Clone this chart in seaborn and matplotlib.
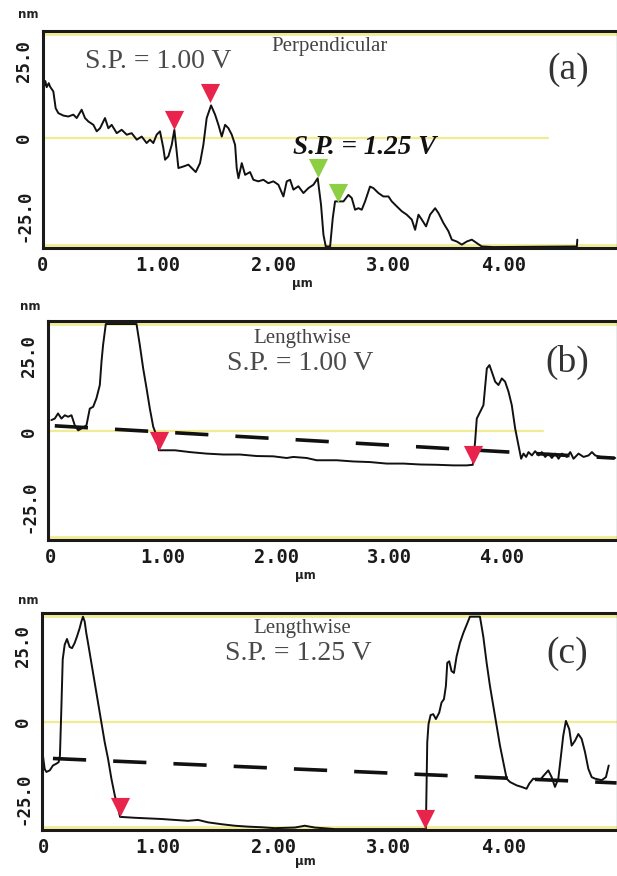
import numpy as np
import pandas as pd
import seaborn as sns
import matplotlib.pyplot as plt

# profile (a) - perpendicular
a_x = [0.0, 0.012, 0.02, 0.032, 0.05, 0.061, 0.09, 0.11, 0.133, 0.177, 0.22, 0.264, 0.293, 0.336, 0.365,
       0.394, 0.438, 0.467, 0.496, 0.539, 0.568, 0.597, 0.641, 0.684, 0.728, 0.771, 0.815, 0.858, 0.901, 0.930,
       0.959, 0.988, 1.017, 1.046, 1.061, 1.090, 1.119, 1.142, 1.162, 1.177, 1.220, 1.264, 1.293, 1.328, 1.365,
       1.394, 1.423, 1.461, 1.496, 1.525, 1.554, 1.583, 1.612, 1.641, 1.670, 1.684, 1.699, 1.728, 1.757, 1.800,
       1.829, 1.872, 1.916, 1.959, 2.003, 2.046, 2.090, 2.119, 2.148, 2.177, 2.220, 2.264, 2.307, 2.351, 2.388,
       2.417, 2.438, 2.458, 2.496, 2.519, 2.539, 2.568, 2.612, 2.655, 2.684, 2.713, 2.742, 2.771, 2.800, 2.843,
       2.872, 2.916, 2.959, 3.003, 3.032, 3.075, 3.119, 3.162, 3.206, 3.235, 3.264, 3.293, 3.330, 3.365, 3.409,
       3.438, 3.481, 3.525, 3.554, 3.597, 3.641, 3.684, 3.728, 3.771, 3.814, 3.916, 4.641, 4.645]
a_y = [20.0, 17.0, 18.5, 16.5, 17.8, 16.7, 15.1, 9.7, 8.1, 7.3, 7.0, 7.6, 6.5, 9.2, 6.5,
       5.4, 4.3, 2.2, 3.2, 6.5, 3.2, 4.3, 1.6, 2.7, 1.1, 1.6, -0.5, 0.5, -1.6, -0.5,
       -1.6, 1.1, 2.2, -3.2, -7.0, -5.9, -2.2, 2.7, -4.3, -9.7, -9.2, -8.6, -9.7, -11.0, -8.1,
       -2.2, 6.5, 10.6, 7.6, 4.3, 0.5, 4.3, 3.2, 1.1, -2.2, -9.7, -13.0, -8.1, -11.9, -11.0,
       -13.5, -14.0, -13.5, -14.6, -14.0, -15.1, -18.9, -14.0, -13.5, -16.7, -15.6, -17.8, -16.2, -15.1, -13.0,
       -21.6, -31.3, -35.1, -35.1, -25.9, -20.5, -20.5, -20.5, -18.4, -19.4, -23.2, -22.7, -23.2, -20.5, -15.7,
       -16.2, -17.8, -18.9, -18.9, -20.5, -22.1, -23.7, -24.8, -26.4, -29.7, -24.8, -26.4, -28.6, -24.8, -22.7,
       -24.3, -27.5, -30.2, -32.9, -33.5, -34.5, -33.5, -32.9, -34.0, -35.1, -35.3, -35.1, -32.9]
a_red_x = [1.136, 1.449]
a_red_y = [5.8, 14.6]
a_green_x = [2.388, 2.568]
a_green_y = [-9.7, -17.8]

# profile (b) - lengthwise, 1.00 V
b_x = [0.010, 0.040, 0.069, 0.099, 0.129, 0.158, 0.188, 0.217, 0.247, 0.276, 0.321, 0.350, 0.380, 0.409, 0.439,
       0.454, 0.468, 0.492, 0.764, 0.793, 0.823, 0.853, 0.882, 0.912, 0.935, 0.962, 1.104, 1.237, 1.384, 1.532,
       1.680, 1.828, 1.975, 2.094, 2.153, 2.271, 2.360, 2.478, 2.537, 2.685, 2.832, 2.980, 3.128, 3.276, 3.423,
       3.571, 3.689, 3.743, 3.763, 3.778, 3.822, 3.837, 3.867, 3.890, 3.911, 3.941, 3.970, 4.000, 4.029, 4.059,
       4.088, 4.118, 4.147, 4.171, 4.192, 4.215, 4.236, 4.266, 4.295, 4.325, 4.354, 4.384, 4.413, 4.443, 4.473,
       4.502, 4.532, 4.576, 4.606, 4.635, 4.679, 4.724, 4.768, 4.798, 4.827, 4.871, 4.931, 5.004]
b_y = [3.7, 4.2, 5.9, 4.2, 5.3, 4.8, 5.3, 2.0, 0.3, 0.9, 2.0, 7.5, 8.1, 10.9, 15.3,
       23.1, 28.6, 35.5, 35.5, 28.6, 20.8, 14.2, 7.5, 1.5, -0.8, -6.3, -6.3, -6.9, -7.4, -7.7,
       -7.7, -8.2, -8.3, -8.85, -8.5, -8.85, -9.6, -9.6, -9.6, -10.0, -10.2, -10.7, -10.7, -11.0, -11.1,
       -11.3, -11.3, -11.1, -3.5, 4.2, 7.5, 8.65, 20.8, 21.9, 19.7, 16.4, 15.3, 17.5, 16.4, 13.1,
       8.65, 0.9, -4.6, -9.1, -7.4, -8.5, -6.9, -8.0, -6.6, -8.0, -6.9, -8.5, -7.4, -8.85, -7.4,
       -9.1, -7.4, -8.5, -6.9, -9.1, -7.4, -8.5, -8.0, -6.9, -8.0, -8.5, -8.85, -8.85]
b_red_x = [0.962, 3.743]
b_red_y = [-3.3, -8.0]
b_base_x = [0.04, 5.0]
b_base_y = [1.8, -8.9]

# profile (c) - lengthwise, 1.25 V
c_x = [0.0, 0.013, 0.028, 0.057, 0.085, 0.115, 0.135, 0.146, 0.158, 0.170, 0.187, 0.207, 0.230, 0.251, 0.274,
       0.294, 0.317, 0.332, 0.346, 0.361, 0.375, 0.390, 0.419, 0.448, 0.477, 0.506, 0.535, 0.564, 0.593, 0.622,
       0.651, 0.668, 0.796, 0.912, 1.028, 1.143, 1.259, 1.346, 1.433, 1.549, 1.665, 1.781, 1.897, 2.013, 2.187,
       2.274, 2.361, 2.535, 2.839, 3.274, 3.326, 3.338, 3.349, 3.367, 3.390, 3.413, 3.442, 3.462, 3.483, 3.500,
       3.512, 3.529, 3.549, 3.570, 3.593, 3.622, 3.651, 3.680, 3.709, 3.796, 3.825, 3.854, 3.883, 3.912, 3.941,
       3.970, 3.999, 4.028, 4.057, 4.115, 4.158, 4.201, 4.225, 4.259, 4.317, 4.352, 4.390, 4.419, 4.448, 4.477,
       4.497, 4.520, 4.543, 4.572, 4.593, 4.622, 4.651, 4.680, 4.709, 4.738, 4.767, 4.796, 4.854, 4.891, 4.915]
c_y = [-11.5, -15.3, -16.3, -15.8, -14.2, -13.6, -13.1, -10.9, 4.2, 20.5, 25.3, 27.2, 24.6, 24.2, 25.9,
       28.0, 30.7, 32.9, 34.5, 32.9, 29.1, 25.9, 19.4, 12.9, 6.4, -0.1, -6.6, -12.0, -18.5, -23.9,
       -28.2, -31.0, -31.3, -31.5, -31.7, -32.0, -32.3, -32.0, -32.8, -33.4, -33.9, -34.2, -34.4, -34.7, -34.5,
       -33.9, -34.5, -35.0, -35.0, -35.0, -35.0, -6.6, -0.65, 2.3, 2.6, 1.0, 3.1, 6.4, 7.5, 11.8,
       19.4, 19.9, 16.7, 16.1, 21.5, 25.9, 29.1, 31.8, 34.5, 34.5, 28.0, 19.4, 11.8, 5.3, -1.2,
       -7.7, -13.1, -18.5, -19.6, -20.7, -21.2, -21.8, -20.1, -18.5, -19.0, -17.4, -15.8, -18.0, -21.2, -18.5,
       -12.0, -4.4, 0.4, -2.3, -7.7, -6.1, -3.9, -5.5, -9.8, -15.3, -18.0, -18.5, -19.0, -18.0, -14.2]
c_red_x = [0.671, 3.32]
c_red_y = [-27.7, -31.7]
c_base_x = [0.085, 4.984]
c_base_y = [-11.9, -19.9]

x_ticks = [0, 1, 2, 3, 4]
x_ticklabels = ['0', '1.00', '2.00', '3.00', '4.00']
y_ticks = [25, 0, -25]
y_ticklabels = ['25.0', '0', '-25.0']

W, H = 617, 876
RED = '#e8244c'
GREEN = '#8ccf45'
YELLOW = '#f1ec94'

sns.set_style('white')
fig = plt.figure(figsize=(W / 100, H / 100), dpi=100)


def px(x, y):
    return x / W, 1 - y / H


def make_axes(left, top, bottom, ylim, zero_end=1.0):
    ax = fig.add_axes([left / W, 1 - bottom / H, (W - left) / W, (bottom - top) / H])
    ax.axhline(0, xmax=zero_end, color=YELLOW, lw=1.6, zorder=0)
    ax.axhline(ylim[1] - 0.9, color=YELLOW, lw=2, zorder=0)
    ax.axhline(ylim[0] + 0.9, color=YELLOW, lw=2, zorder=0)
    for side in ['left', 'bottom', 'top']:
        ax.spines[side].set_color('#1a1a1a')
        ax.spines[side].set_linewidth(2.2)
    ax.spines['right'].set_color('#999999')
    ax.spines['right'].set_linewidth(1)
    return ax


def finish_axes(ax, xlim, ylim):
    ax.set_xlim(*xlim)
    ax.set_ylim(*ylim)
    ax.set_xticks(x_ticks)
    ax.set_xticklabels(x_ticklabels, family='DejaVu Sans Mono', fontweight='bold', fontsize=13.5, color='#1a1a1a')
    ax.set_yticks(y_ticks)
    ax.set_yticklabels(y_ticklabels, family='DejaVu Sans Mono', fontweight='bold', fontsize=12.5,
                       rotation=90, va='center', color='#1a1a1a')
    ax.tick_params(axis='x', direction='in', length=3, width=1, pad=6)
    ax.tick_params(axis='y', direction='out', length=4, width=1, pad=3)
    ax.set_xlabel('')
    ax.set_ylabel('')


def profile(ax, xs, ys):
    df = pd.DataFrame({'x': xs, 'y': ys})
    sns.lineplot(data=df, x='x', y='y', ax=ax, color='#111111', lw=1.4, estimator=None, sort=False)


def baseline(ax, xs, ys):
    sns.lineplot(x=xs, y=ys, ax=ax, color='#111111', lw=2.6, linestyle=(0, (9.2, 7.5)),
                 estimator=None, sort=False)


def cursors(ax, xs, ys, color):
    sns.scatterplot(x=xs, y=ys, ax=ax, marker='v', s=190, color=color, linewidth=0, zorder=5)


serif = 'Liberation Serif'
label_font = dict(family='DejaVu Sans', fontweight='bold', fontsize=8.5, color='#222')
title_font = dict(family=serif, fontsize=15, color='#444', ha='center', va='center')
sp_font = dict(family=serif, fontsize=20, color='#4a4a4a', ha='center', va='center')
tag_font = dict(family=serif, fontsize=27, color='#333', ha='center', va='center')

# (a)
ylim_a = (-35.6, 34.7)
ax_a = make_axes(43, 31, 248, ylim_a, zero_end=0.88)
profile(ax_a, a_x, a_y)
cursors(ax_a, a_red_x, a_red_y, RED)
cursors(ax_a, a_green_x, a_green_y, GREEN)
finish_axes(ax_a, (0, 4.99), ylim_a)
fig.text(*px(28, 14), 'nm', ha='center', va='center', **label_font)
fig.text(*px(302, 284), 'µm', ha='center', va='center', **label_font)
fig.text(*px(330, 46), 'Perpendicular', **title_font)
fig.text(*px(158, 62), 'S.P. = 1.00 V', **sp_font)
fig.text(*px(365, 148), 'S.P. = 1.25 V', family=serif, fontsize=19.5, style='italic', fontweight='bold',
         color='#111', ha='center', va='center')
fig.text(*px(568, 70), '(a)', **tag_font)

# (b)
ylim_b = (-36.0, 36.5)
ax_b = make_axes(48, 321, 540, ylim_b, zero_end=0.87)
baseline(ax_b, b_base_x, b_base_y)
profile(ax_b, b_x, b_y)
cursors(ax_b, b_red_x, b_red_y, RED)
finish_axes(ax_b, (-0.02, 5.02), ylim_b)
fig.text(*px(30, 306), 'nm', ha='center', va='center', **label_font)
fig.text(*px(305, 576), 'µm', ha='center', va='center', **label_font)
fig.text(*px(302, 338), 'Lengthwise', **title_font)
fig.text(*px(300, 364), 'S.P. = 1.00 V', **sp_font)
fig.text(*px(567, 362), '(b)', **tag_font)

# (c)
ylim_c = (-35.3, 35.7)
ax_c = make_axes(42, 613, 830, ylim_c)
baseline(ax_c, c_base_x, c_base_y)
profile(ax_c, c_x, c_y)
cursors(ax_c, c_red_x, c_red_y, RED)
finish_axes(ax_c, (-0.01, 4.987), ylim_c)
fig.text(*px(28, 601), 'nm', ha='center', va='center', **label_font)
fig.text(*px(305, 862), 'µm', ha='center', va='center', **label_font)
fig.text(*px(302, 628), 'Lengthwise', **title_font)
fig.text(*px(298, 654), 'S.P. = 1.25 V', **sp_font)
fig.text(*px(567, 654), '(c)', **tag_font)

fig.savefig('out.png', dpi=100, facecolor='white')
